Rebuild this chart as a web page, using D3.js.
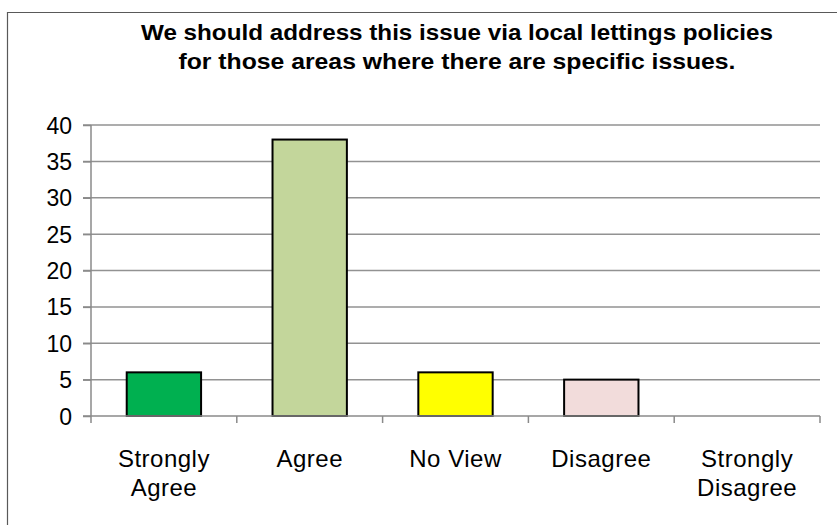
<!DOCTYPE html>
<html><head><meta charset="utf-8">
<script src="https://cdn.jsdelivr.net/npm/d3@7"></script>
<style>body{margin:0;background:#fff}svg{display:block}</style>
</head><body>
<script>
const categories = [["Strongly","Agree"],["Agree"],["No View"],["Disagree"],["Strongly","Disagree"]];
const values = [6, 38, 6, 5, 0];
const colors = ["#00B050","#C3D69B","#FFFF00","#F2DCDB","#DDD9C3"];
const yTicks = [0,5,10,15,20,25,30,35,40];
const titleLines = ["We should address this issue via local lettings policies","for those areas where there are specific issues."];

const W = 837, H = 525;
const svg = d3.select("body").append("svg").attr("width", W).attr("height", H);
svg.append("rect").attr("width", W).attr("height", H).attr("fill", "#fff");
// chart border
svg.append("path").attr("d", `M7.5,${H+2} V12.5 H${W+2}`).attr("fill","none").attr("stroke","#595959").attr("stroke-width",1.2);

const x0 = 91, x1 = 820, yTop = 125, yBot = 416;
const x = d3.scaleBand().domain(d3.range(categories.length)).range([x0, x1]).paddingInner(0.49).paddingOuter(0.245);
const xb = d3.scaleBand().domain(d3.range(categories.length)).range([x0, x1]);
const y = d3.scaleLinear().domain([0, 40]).range([yBot, yTop]);
const FONT = "Liberation Sans, Arial, sans-serif";

// gridlines
svg.append("g").selectAll("line").data(yTicks.filter(d=>d>0)).join("line")
  .attr("x1", x0 - 8).attr("x2", x1).attr("y1", d=>y(d)).attr("y2", d=>y(d))
  .attr("stroke", "#929292").attr("stroke-width", 1.5);

// bars
svg.append("g").selectAll("rect").data(values).join("rect")
  .attr("x", (d,i)=>x(i)).attr("width", x.bandwidth())
  .attr("y", d=>y(d)).attr("height", d=>yBot - y(d))
  .attr("fill", (d,i)=>colors[i])
  .attr("stroke", (d)=> d>0 ? "#000" : "none").attr("stroke-width", 2);

// y axis
const yAxis = svg.append("g").attr("transform", `translate(${x0},0)`)
  .call(d3.axisLeft(y).tickValues(yTicks).tickSize(8).tickPadding(11));
yAxis.select(".domain").attr("stroke", "#8a8a8a").attr("stroke-width", 1.5).attr("d", `M0,${yTop}V${yBot}`);
yAxis.selectAll(".tick line").attr("stroke", "#8a8a8a").attr("stroke-width", 1.5);
yAxis.selectAll("text").attr("font-family", FONT).attr("font-size", 23).attr("fill", "#000").attr("dy", "0.35em");

// x axis
const xAxisG = svg.append("g").attr("transform", `translate(0,${yBot})`);
xAxisG.append("line").attr("x1", x0 - 8).attr("x2", x1).attr("stroke", "#8a8a8a").attr("stroke-width", 1.5);
const bounds = d3.range(categories.length + 1).map(i => i < categories.length ? xb(i) : xb(i-1) + xb.bandwidth());
xAxisG.selectAll("line.tk").data(bounds).join("line").attr("class","tk")
  .attr("x1", d=>d).attr("x2", d=>d).attr("y1", 0).attr("y2", 7)
  .attr("stroke", "#8a8a8a").attr("stroke-width", 1.5);
const lbl = xAxisG.selectAll("text.lbl").data(categories).join("text").attr("class","lbl")
  .attr("text-anchor", "middle").attr("font-family", FONT)
  .attr("font-size", 24).attr("letter-spacing", 0.5).attr("fill", "#000")
  .attr("transform", (d,i)=>`translate(${xb(i) + xb.bandwidth()/2},0)`);
lbl.selectAll("tspan").data(d=>d).join("tspan").attr("x", 0).attr("y", (d,j)=> 51 + j*29).text(d=>d);

// title
const tg = svg.append("g");
const widths = [632, 557];
titleLines.forEach((t,i)=>{
  tg.append("text").attr("x", 457).attr("y", 40 + i*29).attr("text-anchor","middle")
    .attr("font-family", FONT).attr("font-weight","bold").attr("font-size", 22)
    .attr("textLength", widths[i]).attr("lengthAdjust","spacingAndGlyphs").attr("fill","#000").text(t);
});
</script>
</body></html>
